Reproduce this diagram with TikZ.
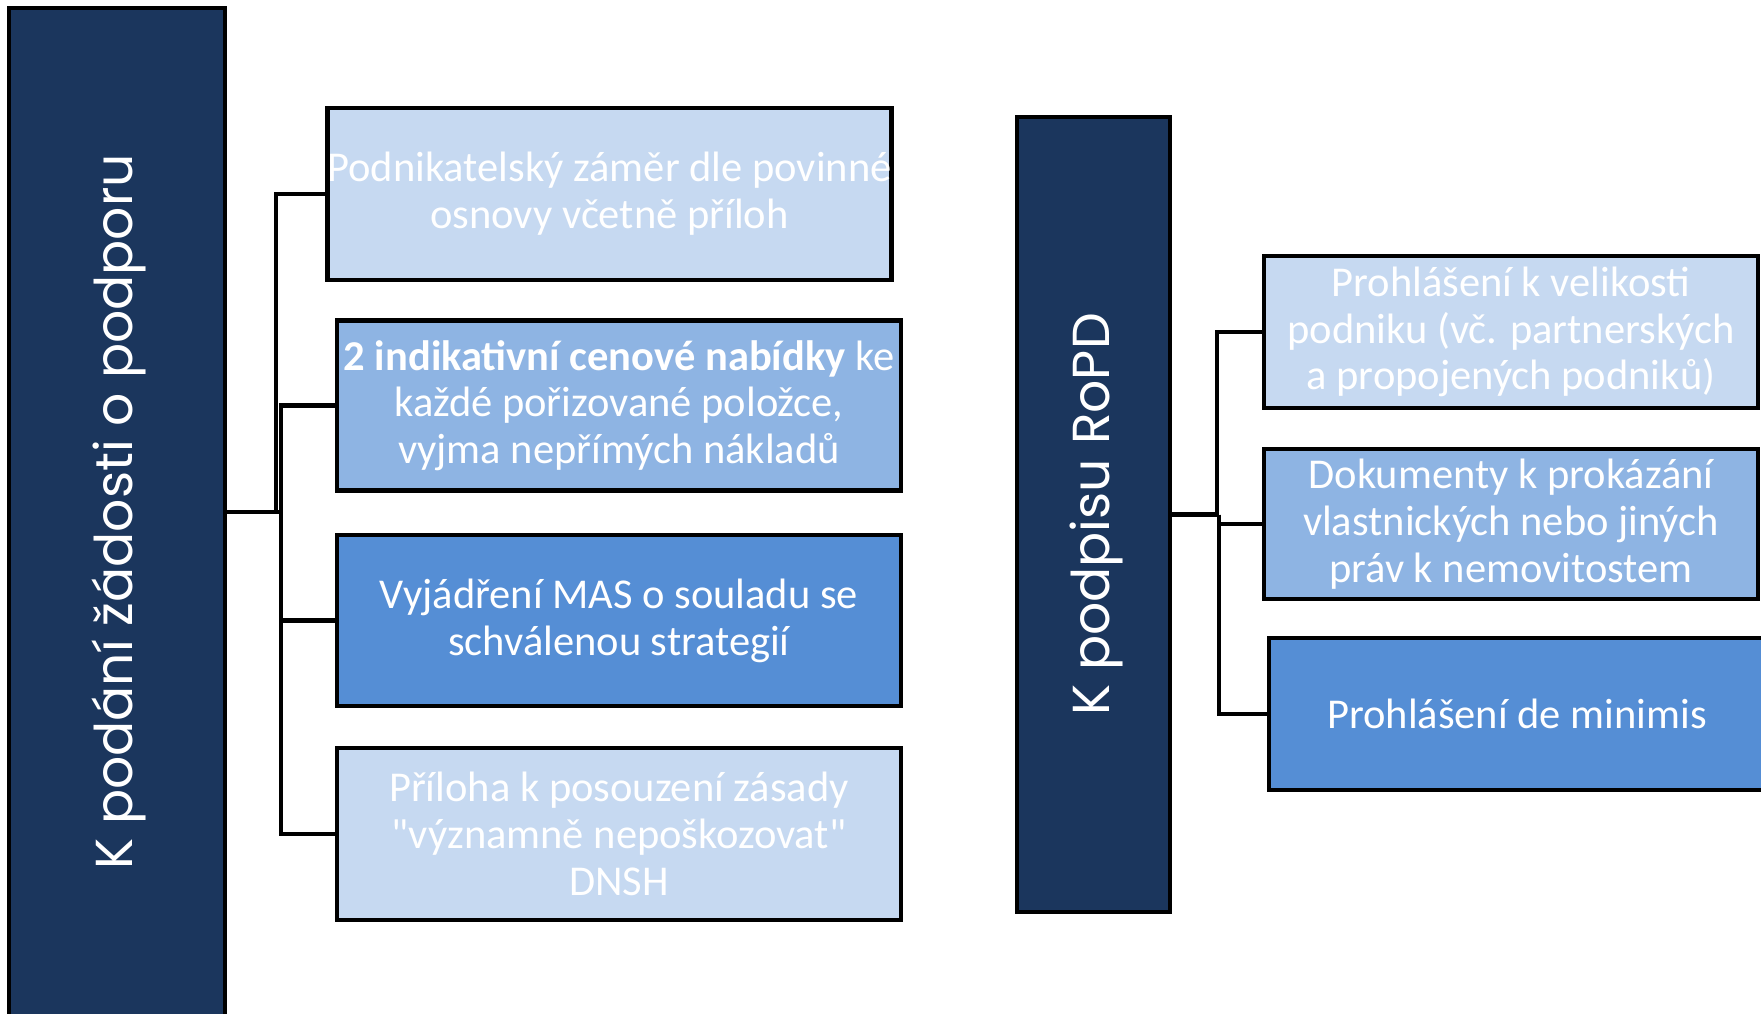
\documentclass[tikz,border=0pt]{standalone}
\usepackage{fontspec}
\setmainfont{Carlito}
\newfontfamily\qfont{Carlito}[Ligatures=TeXOff]
\newfontfamily\headfont{Poppins}
\definecolor{navy}{RGB}{27,54,93}
\definecolor{lightblue}{RGB}{198,217,241}
\definecolor{midblue}{RGB}{142,180,227}
\definecolor{darkblue}{RGB}{85,142,213}
\newcommand{\sq}{{\qfont"}}
\begin{document}
\begin{tikzpicture}[x=1pt,y=-1pt,
  headbox/.style={draw=black, line width=4.5pt, fill=navy, inner sep=0pt},
  headtext/.style={rotate=90, text=white, font=\headfont\fontsize{52}{60}\selectfont, inner sep=0pt},
  item/.style={draw=black, line width=4.5pt, inner sep=0pt, text=white, align=center,
    font=\fontsize{42.5}{46.8}\selectfont},
  conn/.style={draw=black, line width=4.5pt}
]
\useasboundingbox (0,0) rectangle (1761,1014);
\clip (0,0) rectangle (1761,1014);
\fill[white] (0,0) rectangle (1761,1014);

% left group
\node[headbox, minimum width=216pt, minimum height=1008pt] (L) at (117,512) {};
\node[headtext] (Ltext) at (119,512) {K podání žádosti o podporu};

\node[item, fill=lightblue, minimum width=564pt, minimum height=172pt] (B1) at (609.5,194)
  {Podnikatelský záměr dle povinné\\osnovy včetně příloh};
\node[item, fill=midblue, minimum width=564pt, minimum height=170pt] (B2) at (619,405.5)
  {\textbf{2 indikativní cenové nabídky} ke\\každé pořizované položce,\\vyjma nepřímých nákladů};
\node[item, fill=darkblue, minimum width=564pt, minimum height=171pt] (B3) at (619,620.5)
  {Vyjádření MAS o souladu se\\schválenou strategií};
\node[item, fill=lightblue, minimum width=564pt, minimum height=172pt] (B4) at (619,834)
  {Příloha k posouzení zásady\\\sq významně nepoškozovat\sq\\DNSH};

\coordinate (J1) at (276,512);
\coordinate (J2) at (281,512);
\draw[conn] (L.east) -- (J2);
\draw[conn] (J1) |- (B1.west);
\draw[conn] (J2) |- (B2.west);
\draw[conn] (J2) |- (B3.west);
\draw[conn] (J2) |- (B4.west);

% right group
\node[headbox, minimum width=153pt, minimum height=795pt] (R) at (1093.5,514.5) {};
\node[headtext] (Rtext) at (1096,514.5) {K podpisu RoPD};

\node[item, fill=lightblue, minimum width=494pt, minimum height=152pt] (R1) at (1511,332)
  {Prohlášení k velikosti\\podniku (vč. partnerských\\a propojených podniků)};
\node[item, fill=midblue, minimum width=494pt, minimum height=150pt] (R2) at (1511,524)
  {Dokumenty k prokázání\\vlastnických nebo jiných\\práv k nemovitostem};
\node[item, fill=darkblue, minimum width=496pt, minimum height=152pt] (R3) at (1517,714)
  {Prohlášení de minimis};

\coordinate (K1) at (1217,514.5);
\coordinate (K2) at (1219,514.5);
\draw[conn] (R.east) -- (K2);
\draw[conn] (K1) |- (R1.west);
\draw[conn] (K2) |- (R2.west);
\draw[conn] (K2) |- (R3.west);
\end{tikzpicture}
\end{document}
